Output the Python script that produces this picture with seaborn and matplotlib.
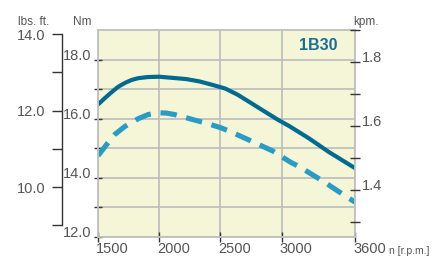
import matplotlib
matplotlib.use("Agg")
import matplotlib.pyplot as plt
from matplotlib.transforms import ScaledTranslation
import seaborn as sns

# engine speed (rpm) and torque (Nm)
rpm_solid = [1500, 1557, 1612, 1665, 1720, 1774, 1828, 1909, 2000, 2113, 2222,
             2330, 2439, 2540, 2642, 2751, 2859, 2968, 3063, 3226, 3388, 3600]
nm_solid = [16.48, 16.70, 16.90, 17.08, 17.21, 17.31, 17.37, 17.41, 17.42, 17.38, 17.34,
            17.26, 17.14, 17.02, 16.81, 16.53, 16.25, 15.97, 15.75, 15.33, 14.87, 14.33]

rpm_dashed = [1500, 1571, 1638, 1720, 1828, 1909, 1990, 2059, 2127, 2276,
              2357, 2493, 2561, 2723, 2927, 3077, 3144, 3334, 3524, 3600]
nm_dashed = [14.75, 15.13, 15.47, 15.74, 16.00, 16.14, 16.20, 16.19, 16.14, 15.97,
             15.88, 15.71, 15.60, 15.30, 14.91, 14.52, 14.38, 13.90, 13.38, 13.18]

x_ticks = [1500, 2000, 2500, 3000, 3600]
x_labels = ["1500", "2000", "2500", "3000", "3600"]
nm_ticks = [12, 13, 14, 15, 16, 17, 18]
nm_labels = ["12.0", "", "14.0", "", "16.0", "", "18.0"]
lbs_ticks = [9, 10, 11, 12, 13, 14]
lbs_labels = ["", "10.0", "", "12.0", "", "14.0"]
kpm_ticks = [1.3, 1.4, 1.5, 1.6, 1.7, 1.8, 1.9]
kpm_labels = ["", "1.4", "", "1.6", "", "1.8", ""]

sns.set_theme(style="white")
plt.rcParams["font.family"] = ["Liberation Sans", "DejaVu Sans"]

W, H = 445, 258
fig = plt.figure(figsize=(W / 100, H / 100), dpi=100)
fig.patch.set_facecolor("white")
ax = fig.add_axes([98 / W, 1 - 237 / H, 257 / W, 207 / H])
ax.set_facecolor("#F5F6D8")

sns.lineplot(x=rpm_solid, y=nm_solid, ax=ax, color="#006A90", lw=3.0,
             solid_capstyle="butt")
sns.lineplot(x=rpm_dashed, y=nm_dashed, ax=ax, color="#2A9BC3", lw=3.7)
ax.lines[-1].set_dashes((3.2, 1.9))
ax.lines[-1].set_dash_capstyle("butt")

ax.set_xlim(1500, 3600)
ax.set_ylim(12, 19)
ax.set_xlabel("")
ax.set_ylabel("")

grid_c = "#BFBFBF"
ax.grid(True, color=grid_c, lw=1.3)
for s in ax.spines.values():
    s.set_color(grid_c)
    s.set_linewidth(1.3)

tick_c = "#333333"
lab_c = "#555555"
fs = 10.5
ax.set_xticks(x_ticks)
ax.set_xticklabels(x_labels, ha="left")
ax.set_yticks(nm_ticks)
ax.set_yticklabels(nm_labels, va="baseline")
ax.tick_params(axis="x", direction="inout", length=7, width=1, color=tick_c,
               labelsize=fs, labelcolor=lab_c, pad=0, bottom=True)
ax.tick_params(axis="y", direction="inout", length=6, width=1, color=tick_c,
               labelsize=fs, labelcolor=lab_c, pad=1.5, left=True)
shift = ScaledTranslation(-2 / 100, 0, fig.dpi_scale_trans)
for lab in ax.get_xticklabels():
    lab.set_transform(lab.get_transform() + shift)

# lbs. ft. axis, off to the left
axl = ax.twinx()
axl.yaxis.set_ticks_position("left")
axl.yaxis.set_label_position("left")
axl.spines["left"].set_position(("axes", -36 / 257))
axl.spines["left"].set_bounds(9, 14)
axl.spines["left"].set_color(tick_c)
axl.spines["left"].set_linewidth(1)
for k in ["right", "top", "bottom"]:
    axl.spines[k].set_visible(False)
axl.set_ylim(8.693, 14.105)
axl.set_yticks(lbs_ticks)
axl.set_yticklabels(lbs_labels)
axl.tick_params(axis="y", direction="out", length=7, width=1, color=tick_c,
                labelsize=fs, labelcolor=lab_c, pad=5)

# kpm. axis on the right
axr = ax.twinx()
for k in ["left", "top", "bottom", "right"]:
    axr.spines[k].set_visible(False)
axr.set_ylim(1.2531, 1.9)
axr.set_yticks(kpm_ticks)
axr.set_yticklabels(kpm_labels, va="baseline")
axr.tick_params(axis="y", direction="inout", length=7, width=1, color=tick_c,
                labelsize=fs, labelcolor=lab_c, pad=1.5, right=True)

ax.text((338 - 98) / 257, (237 - 50) / 207, "1B30", transform=ax.transAxes,
        ha="right", va="baseline", fontsize=11.5, fontweight="bold", color="#1A6E96")

fig.text(18 / W, 1 - 25 / H, "lbs. ft.", fontsize=8.5, color=lab_c, va="baseline")
fig.text(73 / W, 1 - 25 / H, "Nm", fontsize=8.5, color=lab_c, va="baseline")
fig.text(353 / W, 1 - 25 / H, "kpm.", fontsize=8.5, color=lab_c, va="baseline")
fig.text(389 / W, 1 - 254 / H, "n [r.p.m.]", fontsize=7.5, color=lab_c, va="baseline")

fig.savefig("out.png", dpi=100)
